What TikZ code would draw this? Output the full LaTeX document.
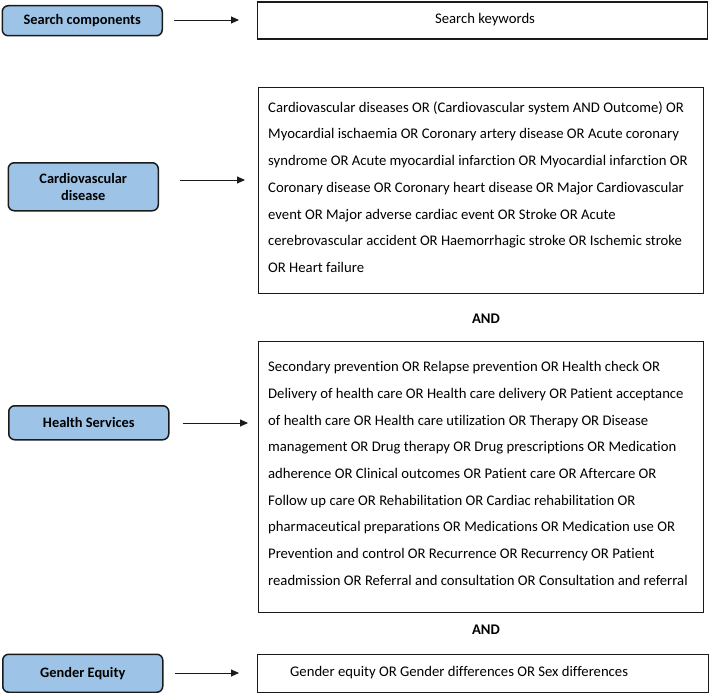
\documentclass[tikz,border=0pt]{standalone}
\usepackage{fontspec}
\setmainfont{Carlito}[Ligatures=NoCommon]
\usetikzlibrary{arrows.meta}
\definecolor{boxblue}{HTML}{9DC3E6}
\definecolor{edge}{HTML}{1A1A1A}
\tikzset{
  comp/.style={draw=edge, line width=1.5pt, fill=boxblue, rounded corners=6pt, anchor=north west, inner sep=0pt, align=center, font=\fontsize{14.4}{17}\selectfont\bfseries},
  kwbox/.style={draw=edge, line width=1.4pt, anchor=north west, inner sep=0pt},
  kwtext/.style={anchor=west, inner sep=0pt, align=left, font=\fontsize{14.7}{26.7}\selectfont},
  arr/.style={draw=edge, line width=0.9pt, -{Triangle[length=8pt,width=7pt]}},
  andlbl/.style={inner sep=0pt, font=\fontsize{14.7}{17}\selectfont\bfseries}
}
\begin{document}
\begin{tikzpicture}[x=1pt,y=-1pt]
\useasboundingbox (0,0) rectangle (710,693);
% left components
\node[comp, minimum width=160pt, minimum height=30pt] (sc) at (1.5,5) {Search components};
\node[comp, minimum width=150pt, minimum height=48pt] (cvd) at (7.5,162) {Cardiovascular\\disease};
\node[comp, minimum width=160pt, minimum height=34pt] (hs) at (8,405) {Health Services};
\node[comp, minimum width=160pt, minimum height=38pt] (ge) at (2,653.5) {Gender Equity};
% right boxes
\node[kwbox, minimum width=450pt, minimum height=37pt] (skb) at (257,1.5) {};
\node[inner sep=0pt, font=\fontsize{14.7}{17}\selectfont] (skt) at (485,20) {Search keywords};
\node[kwbox, minimum width=445pt, minimum height=206pt] (cvdb) at (258,87) {};
\node[kwtext] (cvdt) at (268,187) {Cardiovascular diseases OR (Cardiovascular system AND Outcome) OR\\
Myocardial ischaemia OR Coronary artery disease OR Acute coronary\\
syndrome OR Acute myocardial infarction OR Myocardial infarction OR\\
Coronary disease OR Coronary heart disease OR Major Cardiovascular\\
event OR Major adverse cardiac event OR Stroke OR Acute\\
cerebrovascular accident OR Haemorrhagic stroke OR Ischemic stroke\\
OR Heart failure};
\node[andlbl] (and1) at (486,319) {AND};
\node[kwbox, minimum width=445pt, minimum height=271pt] (hsb) at (258,341) {};
\node[kwtext] (hst) at (268,473.5) {Secondary prevention OR Relapse prevention OR Health check OR\\
Delivery of health care OR Health care delivery OR Patient acceptance\\
of health care OR Health care utilization OR Therapy OR Disease\\
management OR Drug therapy OR Drug prescriptions OR Medication\\
adherence OR Clinical outcomes OR Patient care OR Aftercare OR\\
Follow up care OR Rehabilitation OR Cardiac rehabilitation OR\\
pharmaceutical preparations OR Medications OR Medication use OR\\
Prevention and control OR Recurrence OR Recurrency OR Patient\\
readmission OR Referral and consultation OR Consultation and referral};
\node[andlbl] (and2) at (486,630) {AND};
\node[kwbox, minimum width=451pt, minimum height=38pt] (geb) at (257,653.5) {};
\node[kwtext] (get) at (290,673) {Gender equity OR Gender differences OR Sex differences};
% arrows
\coordinate (a1s) at (174,20);  \coordinate (a1e) at (239,20);
\coordinate (a2s) at (180,180); \coordinate (a2e) at (245,180);
\coordinate (a3s) at (183,423); \coordinate (a3e) at (248,423);
\coordinate (a4s) at (175,673); \coordinate (a4e) at (239,673);
\draw[arr] (a1s) -- (a1e);
\draw[arr] (a2s) -- (a2e);
\draw[arr] (a3s) -- (a3e);
\draw[arr] (a4s) -- (a4e);
\end{tikzpicture}
\end{document}
